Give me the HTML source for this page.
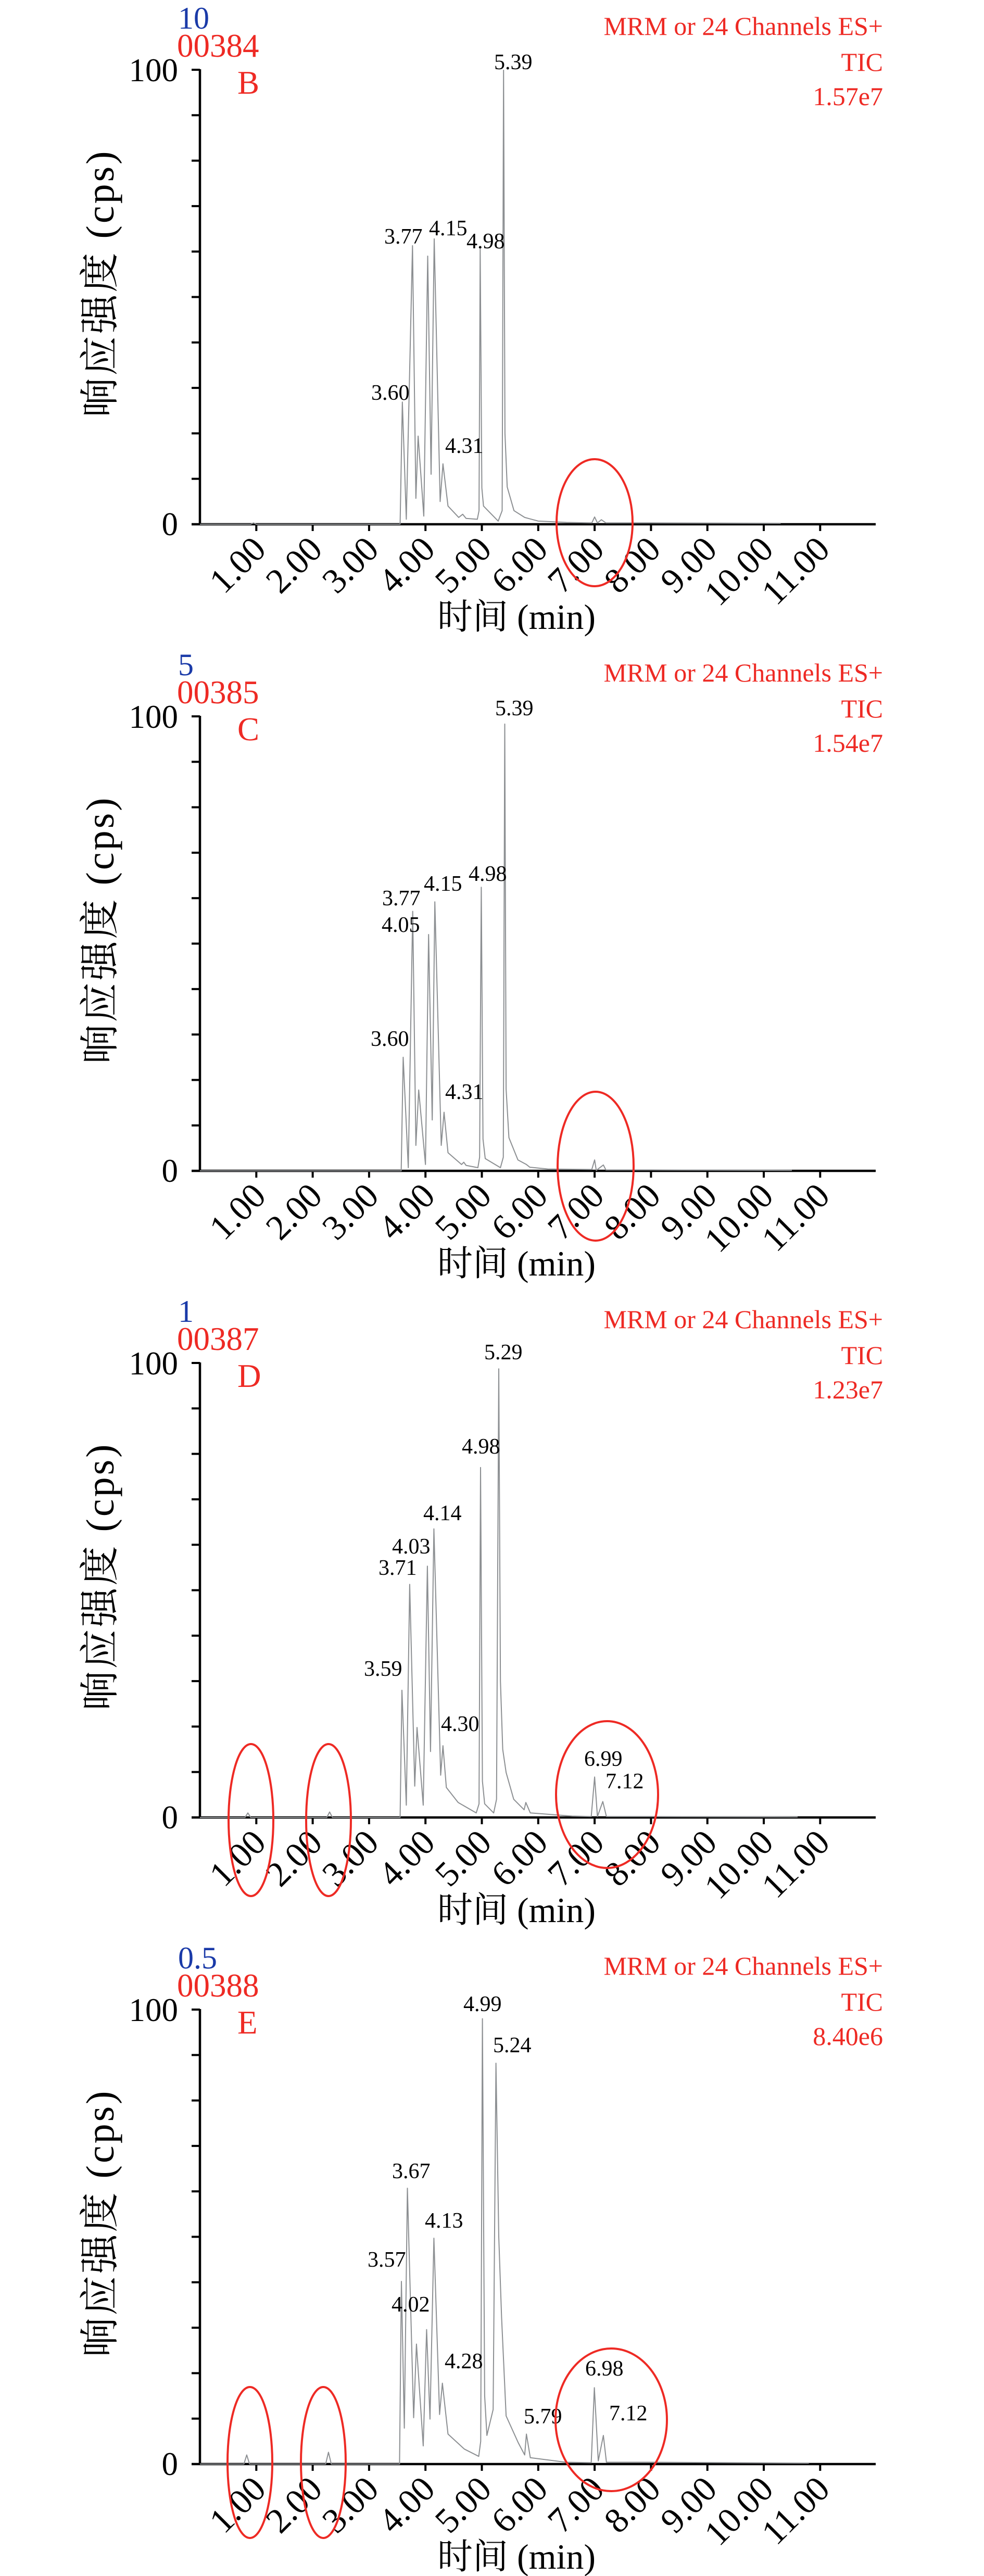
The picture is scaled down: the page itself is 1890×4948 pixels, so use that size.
<!DOCTYPE html>
<html><head><meta charset="utf-8"><style>
html,body{margin:0;padding:0;background:#fff;}
svg{display:block;font-family:"Liberation Serif","Noto Serif CJK SC",serif;}
</style></head><body>
<svg id="chart" width="1890" height="4948" viewBox="0 0 1890 4948" xmlns="http://www.w3.org/2000/svg"></svg>
<script>
// ---- data ----
const panelIds = ["00384","00385","00387","00388"];
const panelLetters = ["B","C","D","E"];
const panelScales = ["10","5","1","0.5"];
const panelIntensities = ["1.57e7","1.54e7","1.23e7","8.40e6"];
const xTickLabels = ["1.00","2.00","3.00","4.00","5.00","6.00","7.00","8.00","9.00","10.00","11.00"];
const xTickValues = [1,2,3,4,5,6,7,8,9,10,11];
const yTickValues = [0,10,20,30,40,50,60,70,80,90,100];

const timesB = [0,0.9,0.95,1.0,3.5,3.55,3.59,3.66,3.77,3.83,3.87,3.97,4.04,4.10,4.155,4.26,4.31,4.40,4.59,4.66,4.72,4.92,4.95,4.97,5.0,5.03,5.29,5.36,5.385,5.41,5.45,5.57,5.76,6.0,6.5,6.95,7.0,7.05,7.12,7.2,8.0,10.3];
const valuesB = [0,0,0.3,0,0,0,26.9,1.1,61.3,5.7,19.4,1.8,59,11,62.8,5,13.3,4,1.5,2.2,1.3,1.1,3,60.5,8,4,0.7,3,99.9,20,8.2,3,1.5,0.7,0.4,0.3,1.6,0.3,1.0,0.3,0.3,0.2];
const timesC = [0,3.5,3.57,3.605,3.695,3.774,3.83,3.88,4.0,4.055,4.12,4.166,4.28,4.33,4.40,4.64,4.68,4.72,4.93,4.96,4.99,5.02,5.06,5.33,5.38,5.406,5.43,5.48,5.64,5.79,5.85,6.17,6.95,7.0,7.03,7.155,7.2,8.0,10.5];
const valuesC = [0,0,0,25,0.7,57.1,5.6,17.8,1.4,52,11.2,59.2,5.6,12.9,4,1.4,1.9,1.2,0.7,3,62.4,7,2.7,0.7,3,98.3,18,7.3,2.4,1.4,0.8,0.4,0.3,2.4,0.1,1.3,0.2,0.2,0.1];
const timesD = [0,0.8,0.85,0.9,2.25,2.3,2.35,3.5,3.55,3.583,3.66,3.72,3.81,3.85,3.96,4.034,4.09,4.15,4.27,4.31,4.37,4.58,4.90,4.95,4.977,5.01,5.05,5.21,5.26,5.30,5.33,5.37,5.43,5.565,5.75,5.78,5.86,6.6,6.94,7.0,7.05,7.145,7.21,8.0,10.6];
const valuesD = [0,0,1,0,0,1.2,0,0,0,28.0,2.7,51.3,6.9,19.8,2.7,55.3,14.5,63.5,9.3,15.8,6.6,3.3,1.0,3,77.0,8,3,1.0,4,98.7,30,15,9.9,4,1.7,3.3,1.0,0.3,0.2,8.9,0.2,3.5,0.2,0.2,0.1];
const timesE = [0,0.78,0.83,0.88,2.23,2.28,2.33,3.5,3.54,3.573,3.625,3.68,3.79,3.84,3.96,4.02,4.08,4.15,4.25,4.30,4.40,4.69,4.945,4.98,5.01,5.05,5.09,5.2,5.25,5.3,5.35,5.43,5.645,5.76,5.79,5.86,6.49,6.94,6.995,7.065,7.155,7.21,8.0,10.8];
const valuesE = [0,0,2,0,0,2.6,0,0,0,40.2,7.9,60.7,10.2,26.4,4.0,29.6,9.9,49.7,10.9,17.8,6.6,3.3,1.7,5,98.0,15,6.3,12,88.2,50,32.3,10.6,4.7,2.0,6.6,1.4,0.4,0.3,16.8,0.7,6.3,0.4,0.4,0.2];

const peakLabelsB = ["5.39","3.77","4.15","4.98","3.60","4.31"];
const peakLabelsC = ["3.60","3.77","4.05","4.15","4.98","5.39","4.31"];
const peakLabelsD = ["5.29","4.98","4.14","4.03","3.71","3.59","4.30","6.99","7.12"];
const peakLabelsE = ["4.99","5.24","3.67","4.13","3.57","4.02","4.28","5.79","6.98","7.12"];

// ---- layout (not data) ----
const labelPosB = [[949,133],[738,468],[824,452],[896,477],[713,768],[855,870]];
const labelPosC = [[712,767],[734,497],[733,548],[814,469],[900,450],[951,132],[855,869]];
const labelPosD = [[930,127],[887,308],[813,436],[753,500],[727,541],[699,735],[847,841],[1122,908],[1163,951]];
const labelPosE = [[890,137],[947,216],[753,458],[816,553],[706,628],[752,714],[854,823],[1006,929],[1124,837],[1170,923]];
const ellipsesByPanel = [
  [[1142,1004,73,122]],
  [[1144,998,73,143]],
  [[1166,963,98,141],[482,1012,43,146],[631,1012,43,146]],
  [[1174,922,107,137],[480,1004,43,145],[621,1004,43,145]]
];
const panelTimes = [timesB,timesC,timesD,timesE];
const panelValues = [valuesB,valuesC,valuesD,valuesE];
const panelLabels = [peakLabelsB,peakLabelsC,peakLabelsD,peakLabelsE];
const panelLabelPos = [labelPosB,labelPosC,labelPosD,labelPosE];

const NS = "http://www.w3.org/2000/svg";
const svg = document.getElementById("chart");
const PANEL_H = 1242, X0 = 384, XS = 108.3, Y0 = 1007, YS = 8.73;
const RED = "#ee2a24", BLUE = "#1a3aa8";

function xScale(t){ return X0 + t*XS; }
function yScale(v, off){ return off + Y0 - v*YS; }
function mk(tag, attrs, parent){
  const e = document.createElementNS(NS, tag);
  for (const k in attrs) e.setAttribute(k, attrs[k]);
  (parent||svg).appendChild(e);
  return e;
}
function txt(s, x, y, size, fill, anchor, parent){
  const t = mk("text", {x:x, y:y, "font-size":size, fill:fill, "text-anchor":anchor||"start"}, parent);
  t.textContent = s;
  return t;
}

for (let p = 0; p < 4; p++){
  const off = p*PANEL_H;
  const g = mk("g", {});
  
  

  let t = txt(panelScales[p], 342, off+55, 60, BLUE, "start", g);
  
  
  t = txt(panelIds[p], 340, off+109, 63, RED, "start", g);
  
  
  t = txt(panelLetters[p], 456, off+180, 63, RED, "start", g);
  
  
  t = txt("MRM or 24 Channels ES+", 1696, off+67, 50, RED, "end", g);
  
  
  t = txt("TIC", 1696, off+136, 50, RED, "end", g);
  
  
  t = txt(panelIntensities[p], 1696, off+202, 50, RED, "end", g);
  
  

  const yAxis = mk("line", {x1:X0, y1:yScale(100,off)-1, x2:X0, y2:yScale(0,off)+2, stroke:"#000", "stroke-width":4.5}, g);
  
  
  const xAxis = mk("line", {x1:X0-16, y1:yScale(0,off), x2:1682, y2:yScale(0,off), stroke:"#000", "stroke-width":4.5}, g);
  
  

  for (let i = 0; i < yTickValues.length; i++){
    const yy = yScale(yTickValues[i], off);
    const tk = mk("line", {x1:X0-16, y1:yy, x2:X0, y2:yy, stroke:"#000", "stroke-width":4}, g);
    
    
  }
  t = txt("100", 342, yScale(100,off)+22, 63, "#000", "end", g);
  
  
  t = txt("0", 342, yScale(0,off)+21, 63, "#000", "end", g);
  
  

  for (let i = 0; i < xTickValues.length; i++){
    const xx = xScale(xTickValues[i]);
    const tk = mk("line", {x1:xx, y1:yScale(0,off), x2:xx, y2:yScale(0,off)+13, stroke:"#000", "stroke-width":4}, g);
    
    
    const px = xx+22, py = yScale(0,off)+52;
    const lb = txt(xTickLabels[i], px, py, 68, "#000", "end", g);
    lb.setAttribute("transform", "rotate(-45 "+px+" "+py+")");
    
    
  }

  const yt = txt("响应强度 (cps)", 0, 0, 76, "#000", "middle", g);
  yt.setAttribute("letter-spacing", "4");
  yt.setAttribute("transform", "translate(218 "+(off+544)+") rotate(-90)");
  
  
  t = txt("时间 (min)", 992, off+1208, 68, "#000", "middle", g);
  
  

  const ts = panelTimes[p], vs = panelValues[p];
  let pts = [];
  for (let i = 0; i < ts.length; i++) pts.push(xScale(ts[i]).toFixed(1)+","+yScale(vs[i],off).toFixed(1));
  const line = mk("polyline", {points:pts.join(" "), fill:"none", stroke:"#8c8f92", "stroke-width":2, "stroke-linejoin":"round"}, g);
  
  

  const labs = panelLabels[p], pos = panelLabelPos[p];
  for (let i = 0; i < labs.length; i++){
    const pl = txt(labs[i], pos[i][0], off+pos[i][1], 42, "#000", "start", g);
    
    
  }

  const els = ellipsesByPanel[p];
  for (let i = 0; i < els.length; i++){
    const el = mk("ellipse", {cx:els[i][0], cy:off+els[i][1], rx:els[i][2], ry:els[i][3], fill:"none", stroke:RED, "stroke-width":4}, g);
    
    
  }
}
</script>
</body></html>
